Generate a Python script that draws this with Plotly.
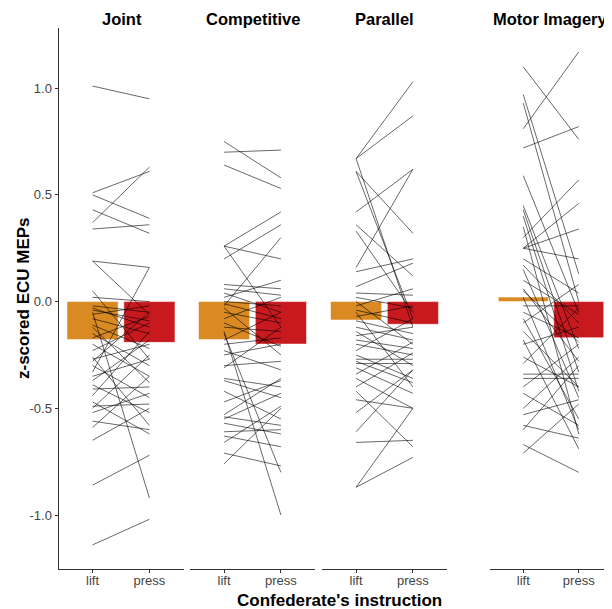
import plotly.graph_objects as go

# page body has an 8px margin, so the figure is drawn at offset (8, 8)
OFF = 8
W, H = 612 - OFF, 609 - OFF

panels = ["Joint", "Competitive", "Parallel", "Motor Imagery"]
conditions = ["lift", "press"]

# bar heights (group means)
bar_lift = [-0.178, -0.178, -0.086, 0.021]
bar_press = [-0.191, -0.199, -0.106, -0.169]

# per-participant values (lift -> press)
joint_lift = [1.01, 0.51, 0.50, 0.43, 0.37, 0.34, 0.19, 0.19, -0.33, 0.05, 0.02, -0.02, -0.03, -0.04,
              -0.05, -0.06, -0.08, -0.11, -0.15, -0.17, -0.20, -0.23, -0.26, -0.27, -0.30, -0.35,
              -0.37, -0.39, -0.41, -0.44, -0.47, -0.49, -0.50, -0.52, -0.56, -0.59, -0.65, -0.86,
              -1.14, -0.12, -0.28]
joint_press = [0.95, 0.61, 0.39, 0.32, 0.63, 0.36, 0.16, -0.06, 0.16, -0.27, 0.00, -0.05, -0.12, -0.09,
               -0.92, -0.02, -0.15, -0.22, -0.30, -0.07, -0.35, -0.10, -0.58, -0.20, -0.45, -0.27,
               -0.18, -0.52, -0.40, -0.14, -0.62, -0.48, -0.25, -0.43, -0.60, -0.35, -0.50, -0.72,
               -1.02, -0.38, -0.05]

comp_lift = [0.75, 0.70, 0.64, 0.26, 0.20, 0.26, 0.26, -0.02, 0.08, 0.06, 0.04, 0.02, 0.00, -0.01,
             -0.03, -0.05, -0.08, -0.12, -0.14, -0.15, -0.18, -0.23, -0.25, -0.30, -0.31, -0.36,
             -0.37, -0.42, -0.47, -0.53, -0.54, -0.55, -0.57, -0.61, -0.63, -0.66, -0.71, -0.76,
             -0.10, -0.20]
comp_press = [0.58, 0.71, 0.53, 0.42, 0.36, 0.20, -0.12, 0.30, 0.06, 0.03, -0.05, 0.10, -0.02, -0.08,
              -0.25, -0.10, 0.02, -0.14, -1.00, -0.80, -0.05, -0.32, -0.20, -0.28, -0.12, -0.40,
              -0.45, -0.55, -0.37, -0.36, -0.58, -0.43, -0.62, -0.60, -0.68, -0.49, -0.77, -0.50,
              -0.21, -0.17]

par_lift = [0.67, 0.67, 0.67, 0.61, 0.61, 0.42, 0.36, 0.33, 0.16, 0.14, 0.07, 0.04, 0.02, 0.00,
            -0.02, -0.04, -0.07, -0.09, -0.12, -0.14, -0.18, -0.20, -0.23, -0.25, -0.27, -0.29,
            -0.31, -0.34, -0.36, -0.40, -0.42, -0.46, -0.52, -0.61, -0.66, -0.87, -0.87, -0.05,
            -0.16, -0.28]
par_press = [1.03, 0.87, -0.12, -0.08, 0.32, 0.62, 0.12, -0.05, 0.62, 0.20, 0.18, 0.03, -0.03, -0.20,
             0.06, -0.10, -0.02, -0.15, -0.18, -0.30, -0.22, -0.25, -0.08, -0.36, -0.27, -0.29,
             -0.43, -0.19, -0.50, -0.24, -0.68, -0.50, -0.32, -0.32, -0.65, -0.50, -0.73, -0.40,
             -0.12, -0.38]

mi_lift = [1.10, 0.81, 0.72, 0.97, 0.93, 0.59, 0.45, 0.30, 0.25, 0.25, 0.25, 0.43, 0.40, 0.35,
           0.20, 0.17, 0.15, 0.10, 0.06, 0.02, -0.02, -0.05, -0.10, -0.14, -0.20, -0.26, -0.29,
           -0.34, -0.36, -0.40, -0.43, -0.50, -0.53, -0.58, -0.60, -0.67, -0.71, -0.08, 0.05, -0.18]
mi_press = [0.76, 1.17, 0.82, 0.13, 0.00, -0.05, -0.22, 0.57, 0.46, 0.34, 0.20, -0.33, -0.42, -0.62,
            0.04, -0.10, -0.45, -0.06, -0.28, -0.60, -0.02, -0.17, 0.08, -0.40, -0.12, -0.40, -0.03,
            -0.34, -0.36, -0.20, -0.58, -0.26, -0.46, -0.64, -0.30, -0.80, -0.48, -0.55, -0.19, -0.69]

subjects = [(joint_lift, joint_press), (comp_lift, comp_press), (par_lift, par_press), (mi_lift, mi_press)]

y_ticks = [-1.0, -0.5, 0.0, 0.5, 1.0]
y_ticktext = ["-1.0", "-0.5", "0.0", "0.5", "1.0"]

ORANGE = "#D98A22"
RED = "#C8191E"

# layout geometry in window pixels
x_px = [(58.5, 183.5), (190, 315), (322, 447), (490, 612)]
y_top, y_bot = 28, 569


def px_x(v):
    return (v - OFF) / W


def px_y(v):
    return (H - (v - OFF)) / H


fig = go.Figure()
layout = dict(
    width=W, height=H, margin=dict(l=0, r=0, t=0, b=0),
    plot_bgcolor="white", paper_bgcolor="white", showlegend=False,
    font=dict(family="Liberation Sans, Arial, sans-serif", color="#4D4D4D", size=12),
)
ydom = [px_y(y_bot), px_y(y_top)]
tickfont = dict(size=13, color="#444444")

for i, name in enumerate(panels):
    xa = "x" if i == 0 else f"x{i+1}"
    ya = "y" if i == 0 else f"y{i+1}"
    fig.add_trace(go.Bar(x=[0], y=[bar_lift[i]], width=0.9,
                         marker=dict(color=ORANGE, line=dict(color="white", width=0.5)),
                         xaxis=xa, yaxis=ya, hoverinfo="skip"))
    fig.add_trace(go.Bar(x=[1], y=[bar_press[i]], width=0.9,
                         marker=dict(color=RED, line=dict(color="white", width=0.5)),
                         xaxis=xa, yaxis=ya, hoverinfo="skip"))
    lx, ly = [], []
    for a, b in zip(*subjects[i]):
        lx += [0, 1, None]
        ly += [a, b, None]
    fig.add_trace(go.Scatter(x=lx, y=ly, mode="lines", line=dict(color="rgba(0,0,0,0.85)", width=0.7),
                             xaxis=xa, yaxis=ya, hoverinfo="skip", connectgaps=False))
    xk = "xaxis" if i == 0 else f"xaxis{i+1}"
    yk = "yaxis" if i == 0 else f"yaxis{i+1}"
    layout[xk] = dict(domain=[max(0, px_x(x_px[i][0])), min(1, px_x(x_px[i][1]))], range=[-0.6, 1.6], anchor=ya,
                      tickvals=[0, 1], ticktext=conditions, showgrid=False, zeroline=False,
                      showline=True, linecolor="#333333", linewidth=1, ticks="outside", ticklen=3,
                      tickcolor="#333333", tickfont=tickfont, ticklabelstandoff=-4, fixedrange=True)
    ydict = dict(domain=ydom, range=[-1.253, 1.282], anchor=xa, showgrid=False, zeroline=False,
                 tickvals=y_ticks, ticktext=y_ticktext, fixedrange=True)
    if i == 0:
        ydict.update(showline=True, linecolor="#333333", linewidth=1, ticks="outside", ticklen=3,
                     tickcolor="#333333", tickfont=tickfont)
    else:
        ydict.update(showline=False, showticklabels=False, ticks="")
    layout[yk] = ydict

annotations = []
title_cx = [121.6, 253, 384, 550]
for i, name in enumerate(panels):
    annotations.append(dict(text=f"<b>{name}</b>", x=px_x(title_cx[i]), y=px_y(19), xref="paper", yref="paper",
                            showarrow=False, font=dict(size=16.5, color="black"), xanchor="center", yanchor="middle"))
annotations.append(dict(text="<b>Confederate's instruction</b>", x=px_x(339.5), y=px_y(600), xref="paper", yref="paper",
                        showarrow=False, font=dict(size=17, color="black"), xanchor="center", yanchor="middle"))
annotations.append(dict(text="<b>z-scored ECU MEPs</b>", x=px_x(23), y=px_y(298), xref="paper", yref="paper",
                        showarrow=False, textangle=-90, font=dict(size=17, color="black"), xanchor="center", yanchor="middle"))
layout["annotations"] = annotations
layout["barmode"] = "overlay"
fig.update_layout(**layout)
fig.write_html("out.html")
